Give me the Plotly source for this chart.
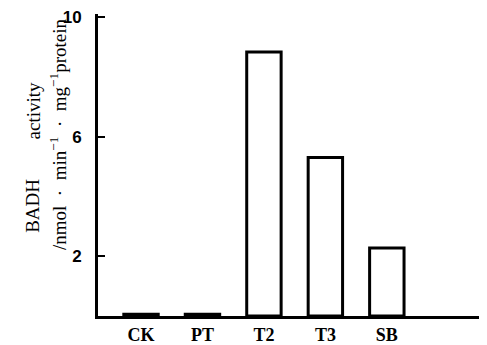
import plotly.graph_objects as go

categories = ["CK", "PT", "T2", "T3", "SB"]
activity = [0.06, 0.06, 8.83, 5.30, 2.27]
ytick_vals = [2, 6, 10]
ytick_text = ["2", "6", "10"]

# page body has an 8px margin; figure sized to fit the 487x345 window
OFF = 8
W, H = 487 - OFF, 345 - OFF
L, R, T, B = 98 - OFF, 0, 12 - OFF, 26

fig = go.Figure()
fig.add_trace(go.Bar(
    x=categories, y=activity, width=0.56,
    marker=dict(color="white", line=dict(color="black", width=3)),
))


def px_to_paper(xp, yp):
    pw = W - L - R
    ph = H - T - B
    return (xp - OFF - L) / pw, (H - B - (yp - OFF)) / ph


a1x, a1y = px_to_paper(33, 207)
a2x, a2y = px_to_paper(33, 111)
a3x, a3y = px_to_paper(58, 135)

fig.update_layout(
    width=W, height=H,
    margin=dict(l=L, r=R, t=T, b=B),
    paper_bgcolor="white", plot_bgcolor="white",
    showlegend=False,
    font=dict(family="Liberation Serif", color="black", size=15),
    xaxis=dict(
        range=[-0.70, 5.63], showline=True, linecolor="black", linewidth=3,
        ticks="", ticklen=0, showgrid=False, zeroline=False,
        tickfont=dict(family="Liberation Serif", size=18, weight="bold"),
    ),
    yaxis=dict(
        range=[0, 10.1], showline=True, linecolor="black", linewidth=3,
        ticks="inside", ticklen=7, tickwidth=2, tickcolor="black",
        tickvals=ytick_vals, ticktext=ytick_text, showgrid=False, zeroline=False,
        tickfont=dict(family="Liberation Sans", size=17, weight="bold"),
        ticklabelstandoff=10, ticklabeloverflow="allow",
    ),
    annotations=[
        dict(text="BADH", textangle=-90, x=a1x, y=a1y,
             xref="paper", yref="paper", xanchor="center", yanchor="middle",
             showarrow=False, font=dict(size=19)),
        dict(text="activity", textangle=-90, x=a2x, y=a2y,
             xref="paper", yref="paper", xanchor="center", yanchor="middle",
             showarrow=False, font=dict(size=19)),
        dict(text="/nmol  ·  min<sup>−1</sup>  ·  mg<sup>−1</sup>protein",
             textangle=-90, x=a3x, y=a3y, xref="paper", yref="paper",
             xanchor="center", yanchor="middle", showarrow=False,
             font=dict(size=19)),
    ],
)

fig.write_html("out.html")
